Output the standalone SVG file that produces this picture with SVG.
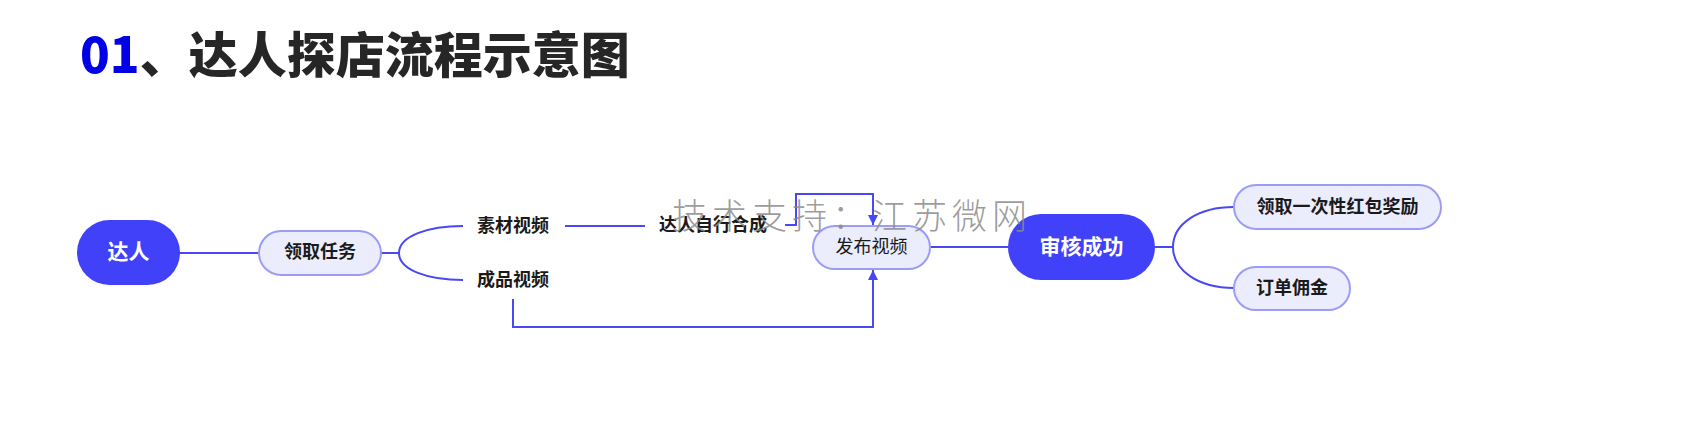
<svg xmlns="http://www.w3.org/2000/svg" width="1698" height="438" viewBox="0 0 1698 438">
<defs>
<marker id="arr" viewBox="0 0 10 10" refX="10" refY="5" markerWidth="10" markerHeight="10" markerUnits="userSpaceOnUse" orient="auto">
<path d="M0,0 L10,5 L0,10 z" fill="#4646F6"/>
</marker>
</defs>
<style>
text{font-family:"Noto Sans CJK SC","Noto Sans",sans-serif;}
.main rect{fill:#4141FA;}
.main text{fill:#FFFFFF;font-size:21px;font-weight:600;text-anchor:middle;}
.sub rect{fill:#EBEDFD;stroke:#9C9CF7;stroke-width:2;}
.sub text{fill:#1A1A1A;font-size:18px;font-weight:600;text-anchor:middle;}
.plain text{fill:#1A1A1A;font-size:18px;font-weight:600;}
.conn path{fill:none;stroke:#4848F5;stroke-width:2;}
.title{font-size:49px;font-weight:900;fill:#262626;}
.wm{font-size:35px;font-weight:300;fill:#8A8A8A;fill-opacity:0.85;letter-spacing:5px;}
</style>
<rect width="1698" height="438" fill="#FFFFFF"/>
<text class="title" x="80" y="73"><tspan fill="#0000E6">01</tspan>、达人探店流程示意图</text>

<g id="connectors" class="conn">
<path d="M180,253 H259"/>
<path d="M381,253 H399"/>
<path d="M399,253 C399,236 428,226 463,226"/>
<path d="M399,253 C399,270 428,280 463,280"/>
<path d="M565,226 H645"/>
<path d="M785,225 H796 V194 H873 V225" marker-end="url(#arr)"/>
<path d="M513,299 V327 H873 V270" marker-end="url(#arr)"/>
<path d="M930,247 H1008"/>
<path d="M1155,247 H1173"/>
<path d="M1173,247 C1173,224 1198,207 1234,207"/>
<path d="M1173,247 C1173,270 1198,288 1234,288"/>
</g>

<g id="n-daren" class="main">
<rect x="77" y="220" width="103" height="65" rx="32.5"/>
<text x="128.5" y="259">达人</text>
</g>
<g id="n-lingqurenwu" class="sub">
<rect x="259" y="231" width="122" height="44" rx="22"/>
<text x="320" y="258">领取任务</text>
</g>
<g id="n-sucai" class="plain">
<text x="477" y="231.5">素材视频</text>
</g>
<g id="n-chengpin" class="plain">
<text x="477" y="286">成品视频</text>
</g>
<g id="n-hecheng" class="plain">
<text x="659" y="231">达人自行合成</text>
</g>
<g id="n-fabu" class="sub">
<rect x="813" y="226" width="117" height="43" rx="21.5"/>
<text x="871.5" y="253" style="font-weight:400">发布视频</text>
</g>
<g id="n-shenhe" class="main">
<rect x="1008" y="214" width="147" height="66" rx="33"/>
<text x="1081.5" y="254">审核成功</text>
</g>
<g id="n-hongbao" class="sub">
<rect x="1234" y="185" width="207" height="44" rx="22"/>
<text x="1337.5" y="212.5">领取一次性红包奖励</text>
</g>
<g id="n-yongjin" class="sub">
<rect x="1234" y="267" width="116" height="43" rx="21.5"/>
<text x="1292" y="294">订单佣金</text>
</g>

<text class="wm" x="672" y="229">技术支持：江苏微网</text>
</svg>
